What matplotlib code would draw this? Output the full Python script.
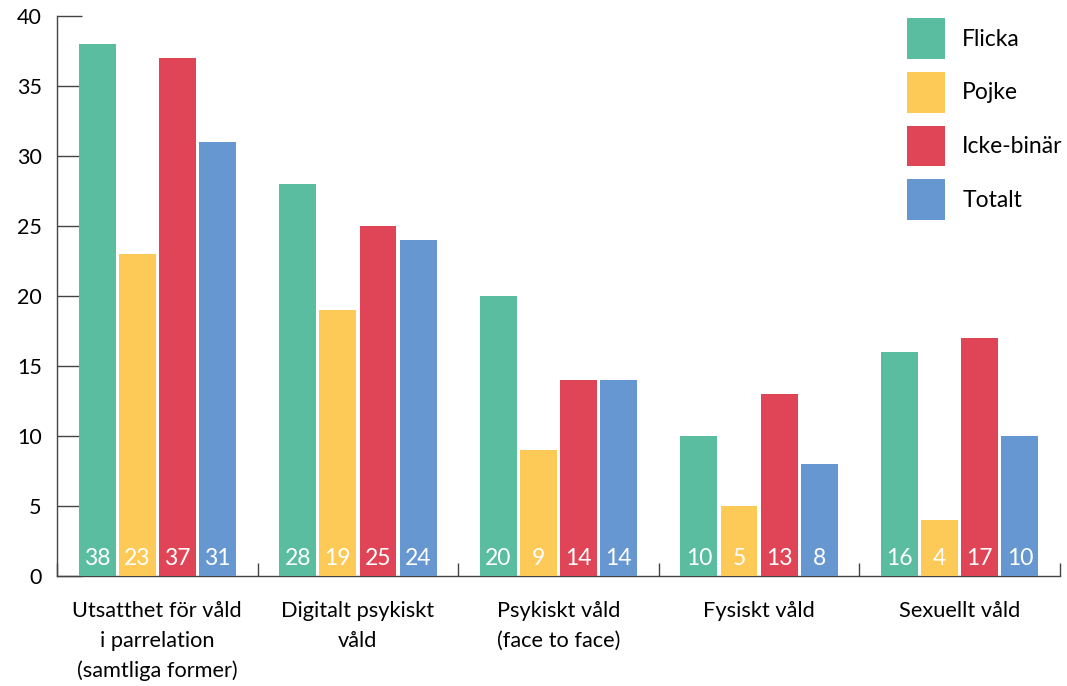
import numpy as np
import matplotlib
matplotlib.use("Agg")
import matplotlib.pyplot as plt

plt.rcParams['font.family'] = ['Lato', 'DejaVu Sans']

categories = ['Utsatthet för våld\ni parrelation\n(samtliga former)',
              'Digitalt psykiskt\nvåld',
              'Psykiskt våld\n(face to face)',
              'Fysiskt våld',
              'Sexuellt våld']
series = ['Flicka', 'Pojke', 'Icke-binär', 'Totalt']
flicka = [38, 28, 20, 10, 16]
pojke = [23, 19, 9, 5, 4]
icke_binar = [37, 25, 14, 13, 17]
totalt = [31, 24, 14, 8, 10]
values = [flicka, pojke, icke_binar, totalt]
colors = ['#5BBD9F', '#FECA57', '#DF4556', '#6697D1']

fig = plt.figure(figsize=(10.67, 6.86), dpi=100)
ax = fig.add_axes([57/1067, 1-576/686, (1060-57)/1067, (576-16)/686])

x = np.arange(len(categories))
step = 0.2
width = 0.184
for i, (name, vals, c) in enumerate(zip(series, values, colors)):
    pos = x + (i - 1.5) * step
    ax.bar(pos, vals, width=width, color=c, label=name, zorder=3)
    for px, v in zip(pos, vals):
        ax.annotate(str(v), (px, 0), xytext=(0, 8), textcoords='offset points',
                    ha='center', va='baseline', color='white', fontsize=16.5, zorder=4)

ax.set_xlim(-0.5, len(categories) - 0.5)
ax.set_ylim(0, 40)
ax.set_yticks(range(0, 41, 5))
ax.set_xticks(x)
ax.set_xticklabels(categories, fontsize=15.7, linespacing=1.6)
ax.set_xticks(np.arange(-0.5, len(categories), 1), minor=True)

spine_col = '#444444'
for s in ['top', 'right']:
    ax.spines[s].set_visible(False)
for s in ['left', 'bottom']:
    ax.spines[s].set_color(spine_col)
    ax.spines[s].set_linewidth(1)

ax.tick_params(axis='x', which='major', length=0, pad=18, labelcolor='black')
ax.tick_params(axis='x', which='minor', direction='in', length=9.5, width=1, color=spine_col)
ax.tick_params(axis='y', direction='in', length=18, width=1, color=spine_col,
               labelsize=15.5, pad=11, labelcolor='black')

ax.legend(loc='upper left', bbox_to_anchor=(907/1067, 1-18/686), bbox_transform=fig.transFigure,
          frameon=False, fontsize=16.5, handlelength=1.66, handleheight=2.37,
          labelspacing=0.56, handletextpad=0.75, borderpad=0, borderaxespad=0)

fig.savefig('out.png', dpi=100)
